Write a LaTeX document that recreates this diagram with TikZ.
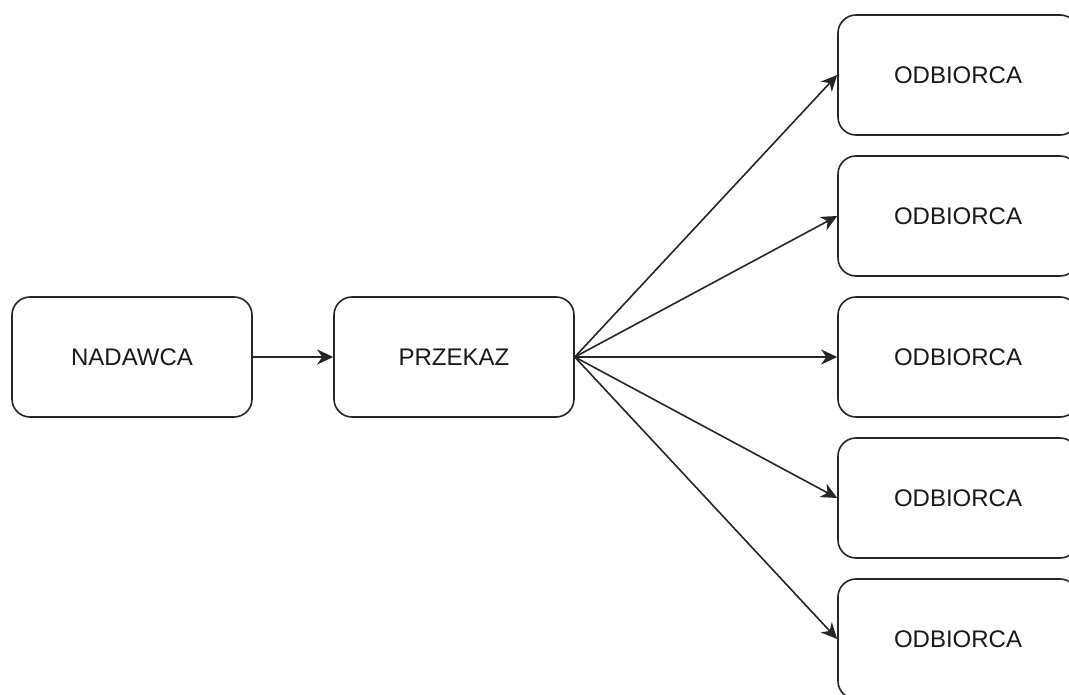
\documentclass[tikz,border=0pt]{standalone}
\usepackage{fontspec}
\setmainfont{Liberation Sans}
\usetikzlibrary{arrows.meta}
\tikzset{
  box/.style={draw=black!85, line width=1.6pt, rounded corners=18pt,
    minimum width=240pt, minimum height=120pt, inner sep=0pt,
    font=\fontsize{24}{27}\selectfont, text=black!90, fill=white},
  link/.style={draw=black!85, line width=1.6pt,
    -{Stealth[length=16pt, width=15pt, inset=5pt]}}
}
\begin{document}
\begin{tikzpicture}[x=1pt, y=-1pt]
  \useasboundingbox (0,0) rectangle (1069,695);
  \clip (0,0) rectangle (1069,695);
  \fill[white] (0,0) rectangle (1069,695);
  % sender and message
  \node[box] (nadawca) at (132,357) {NADAWCA};
  \node[box] (przekaz) at (454,357) {PRZEKAZ};
  % receivers
  \node[box] (odb1) at (958,75)  {ODBIORCA};
  \node[box] (odb2) at (958,216) {ODBIORCA};
  \node[box] (odb3) at (958,357) {ODBIORCA};
  \node[box] (odb4) at (958,498) {ODBIORCA};
  \node[box] (odb5) at (958,639) {ODBIORCA};
  % connectors
  \draw[link] (nadawca.east) -- (przekaz.west);
  \foreach \i in {1,...,5}
    \draw[link] (przekaz.east) -- (odb\i.west);
\end{tikzpicture}
\end{document}
